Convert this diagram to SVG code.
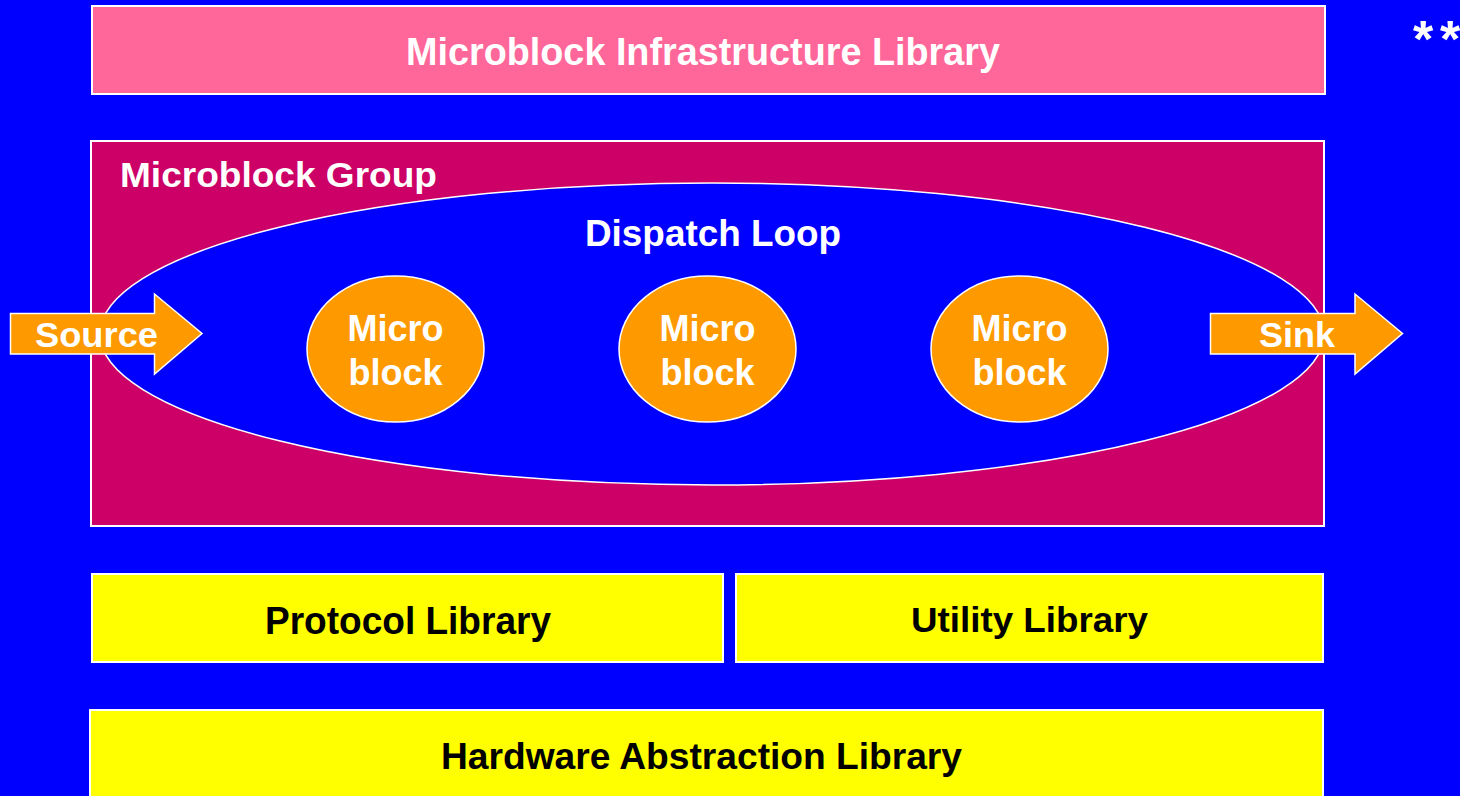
<svg xmlns="http://www.w3.org/2000/svg" width="1460" height="796" viewBox="0 0 1460 796">
<style>
.t{font-family:"Liberation Sans",Arial,sans-serif;font-weight:bold;text-anchor:middle}
.w{fill:#FFFFFF}
.k{fill:#000000}
.box{stroke:#FFFFFF;stroke-width:2}
.yl{fill:#FFFF00}
.or{fill:#FF9900;stroke:#FFFFFF;stroke-width:1.5}
</style>
<rect x="0" y="0" width="1460" height="796" fill="#0000FF"/>
<g id="infra">
<rect class="box" x="92" y="6" width="1233" height="88" fill="#FF6699"/>
<text class="t w" x="703" y="65" font-size="39" textLength="594" lengthAdjust="spacingAndGlyphs">Microblock Infrastructure  Library</text>
</g>
<g id="stars">
<text class="t w" x="1413 1440" y="57" font-size="52" style="text-anchor:start">**</text>
</g>
<g id="group">
<rect class="box" x="91" y="141" width="1233" height="385" fill="#CC0066"/>
<text class="t w" x="120" y="187" font-size="35" textLength="317" lengthAdjust="spacingAndGlyphs" style="text-anchor:start">Microblock Group</text>
</g>
<g id="dispatch">
<ellipse cx="712" cy="334" rx="612" ry="151" fill="#0000FF" stroke="#FFFFFF" stroke-width="1.5"/>
<text class="t w" x="713" y="246" font-size="36" textLength="256" lengthAdjust="spacingAndGlyphs">Dispatch Loop</text>
</g>
<g id="mb1">
<ellipse class="or" cx="395.5" cy="349" rx="88.5" ry="73"/>
<text class="t w" x="395.5" y="341" font-size="36">Micro</text>
<text class="t w" x="395.5" y="385" font-size="36">block</text>
</g>
<g id="mb2">
<ellipse class="or" cx="707.5" cy="349" rx="88.5" ry="73"/>
<text class="t w" x="707.5" y="341" font-size="36">Micro</text>
<text class="t w" x="707.5" y="385" font-size="36">block</text>
</g>
<g id="mb3">
<ellipse class="or" cx="1019.5" cy="349" rx="88.5" ry="73"/>
<text class="t w" x="1019.5" y="341" font-size="36">Micro</text>
<text class="t w" x="1019.5" y="385" font-size="36">block</text>
</g>
<g id="source">
<polygon class="or" points="10.5,313.5 154.5,313.5 154.5,294 202,333.5 154.5,374 154.5,354 10.5,354"/>
<text class="t w" x="96.5" y="347" font-size="35" textLength="123" lengthAdjust="spacingAndGlyphs">Source</text>
</g>
<g id="sink">
<polygon class="or" points="1210.5,313.5 1355,313.5 1355,294 1402.5,333.5 1355,374 1355,354 1210.5,354"/>
<text class="t w" x="1297" y="347" font-size="35" textLength="76" lengthAdjust="spacingAndGlyphs">Sink</text>
</g>
<g id="protocol">
<rect class="box yl" x="92" y="574" width="631" height="88"/>
<text class="t k" x="408" y="634" font-size="38" textLength="286" lengthAdjust="spacingAndGlyphs">Protocol Library</text>
</g>
<g id="utility">
<rect class="box yl" x="736" y="574" width="587" height="88"/>
<text class="t k" x="1029.5" y="632" font-size="35" textLength="237" lengthAdjust="spacingAndGlyphs">Utility Library</text>
</g>
<g id="hal">
<rect class="box yl" x="90" y="710" width="1233" height="100"/>
<text class="t k" x="701.5" y="769" font-size="36" textLength="521" lengthAdjust="spacingAndGlyphs">Hardware Abstraction Library</text>
</g>
<g id="connectors"></g>
</svg>
